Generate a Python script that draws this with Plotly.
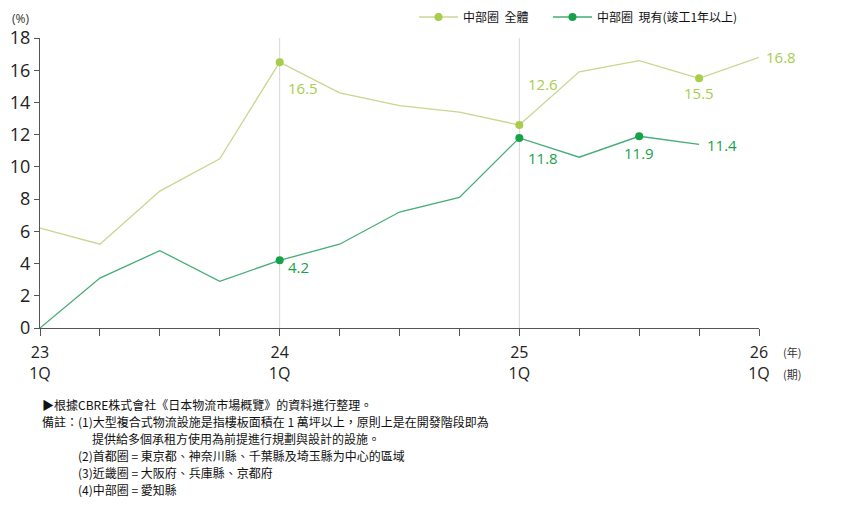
import plotly.graph_objects as go

# quarters 2023 1Q .. 2026 1Q
quarters = ["23-1Q", "23-2Q", "23-3Q", "23-4Q",
            "24-1Q", "24-2Q", "24-3Q", "24-4Q",
            "25-1Q", "25-2Q", "25-3Q", "25-4Q", "26-1Q"]
# 中部圈 全體, %
total_rate = [6.2, 5.2, 8.5, 10.5, 16.5, 14.6, 13.8, 13.4, 12.6, 15.9, 16.6, 15.5, 16.8]
# 中部圈 現有(竣工1年以上), %
existing_rate = [0.0, 3.1, 4.8, 2.9, 4.2, 5.2, 7.2, 8.1, 11.8, 10.6, 11.9, 11.4]
# year ticks
tick_idx = [0, 4, 8, 12]
tick_labels = ["23<br>1Q", "24<br>1Q", "25<br>1Q", "26<br>1Q"]
# points with dots / value labels
total_marked = [4, 8, 11]
total_labeled = [4, 8, 11, 12]
existing_marked = [4, 8, 10]
existing_labeled = [4, 8, 10, 11]

name_total = "中部圈\u00a0\u00a0全體"
name_existing = "中部圈\u00a0\u00a0現有(竣工1年以上)"

c_total_line = "#c8d78f"
c_total_dot = "#a8cd4c"
c_exist_line = "#45ad77"
c_exist_dot = "#17a24a"

num_font = "Open Sans"
cjk_font = "Noto Sans CJK TC"

# page body adds 8px, so figure coords = screen coords - 8
OFF = 8

# label offsets (px): xanchor, xshift, yshift
total_label_pos = {4: ("left", 6, -26), 8: ("left", 7, 41), 11: ("center", 0, -15), 12: ("left", 5, 0)}
exist_label_pos = {4: ("left", 6, -7), 8: ("left", 7, -20), 10: ("center", 0, -17), 11: ("left", 6, -1)}

x_total = list(range(len(total_rate)))
x_exist = list(range(len(existing_rate)))

fig = go.Figure()

# lines
fig.add_trace(go.Scatter(x=x_total, y=total_rate, mode="lines", showlegend=False,
                         line=dict(color=c_total_line, width=1.3), cliponaxis=False, hoverinfo="skip"))
fig.add_trace(go.Scatter(x=x_exist, y=existing_rate, mode="lines", showlegend=False,
                         line=dict(color=c_exist_line, width=1.3), cliponaxis=False, hoverinfo="skip"))
# dots
fig.add_trace(go.Scatter(x=total_marked, y=[total_rate[i] for i in total_marked], mode="markers",
                         showlegend=False, marker=dict(color=c_total_dot, size=8), cliponaxis=False))
fig.add_trace(go.Scatter(x=existing_marked, y=[existing_rate[i] for i in existing_marked], mode="markers",
                         showlegend=False, marker=dict(color=c_exist_dot, size=8), cliponaxis=False))
# legend entries
fig.add_trace(go.Scatter(x=[None], y=[None], mode="lines+markers", name=name_total, legend="legend",
                         line=dict(color=c_total_line, width=1.3), marker=dict(color=c_total_dot, size=8)))
fig.add_trace(go.Scatter(x=[None], y=[None], mode="lines+markers", name=name_existing, legend="legend2",
                         line=dict(color=c_exist_line, width=1.3), marker=dict(color=c_exist_dot, size=8)))

annotations = []
for i in total_labeled:
    xa, xs, ys = total_label_pos[i]
    annotations.append(dict(x=i, y=total_rate[i], text=f"{total_rate[i]:.1f}", showarrow=False,
                            xanchor=xa, yanchor="middle", xshift=xs, yshift=ys,
                            font=dict(family=num_font, size=15, color=c_total_dot)))
for i in existing_labeled:
    xa, xs, ys = exist_label_pos[i]
    annotations.append(dict(x=i, y=existing_rate[i], text=f"{existing_rate[i]:.1f}", showarrow=False,
                            xanchor=xa, yanchor="middle", xshift=xs, yshift=ys,
                            font=dict(family=num_font, size=15, color=c_exist_dot)))

# unit labels
annotations.append(dict(x=(20 - 40) / 719, y=(328 - 18) / 290, xref="paper", yref="paper", text="(%)",
                        showarrow=False, xanchor="center", yanchor="middle",
                        font=dict(family=num_font, size=12, color="#333")))
annotations.append(dict(x=(781 - 40) / 719, y=(328 - 352) / 290, xref="paper", yref="paper", text="(年)",
                        showarrow=False, xanchor="left", yanchor="middle",
                        font=dict(family=cjk_font, size=11, color="#333")))
annotations.append(dict(x=(781 - 40) / 719, y=(328 - 374) / 290, xref="paper", yref="paper", text="(期)",
                        showarrow=False, xanchor="left", yanchor="middle",
                        font=dict(family=cjk_font, size=11, color="#333")))

notes = [
    (42, 404, "▶根據CBRE株式會社《日本物流市場概覽》的資料進行整理。"),
    (42, 421, "備註：(1)大型複合式物流設施是指樓板面積在 1 萬坪以上，原則上是在開發階段即為"),
    (92, 438, "提供給多個承租方使用為前提進行規劃與設計的設施。"),
    (78, 455, "(2)首都圈 = 東京都、神奈川縣、千葉縣及埼玉縣为中心的區域"),
    (78, 472, "(3)近畿圈 = 大阪府、兵庫縣、京都府"),
    (78, 489, "(4)中部圈 = 愛知縣"),
]
for px, py, txt in notes:
    annotations.append(dict(x=(px - 40) / 719, y=(328 - py) / 290, xref="paper", yref="paper",
                            text=txt, showarrow=False, xanchor="left", yanchor="middle", xshift=-1,
                            height=15, borderpad=0,
                            font=dict(family=cjk_font, size=12, color="#111")))

shapes = []
for xv in tick_idx[1:-1]:
    shapes.append(dict(type="line", x0=xv, x1=xv, y0=0, y1=18, xref="x", yref="y",
                       line=dict(color="#d6d6d6", width=1), layer="below"))

legend_style = dict(orientation="h", xref="container", yref="container", xanchor="left", yanchor="middle",
                    font=dict(family=cjk_font, size=12, color="#111"), bgcolor="rgba(0,0,0,0)",
                    itemwidth=39)

fig.update_layout(
    width=852, height=506,
    margin=dict(l=40 - OFF, r=852 - 759 + OFF, t=38 - OFF, b=506 - 328 + OFF, autoexpand=False),
    plot_bgcolor="white", paper_bgcolor="white",
    showlegend=True,
    legend=dict(x=(414 - OFF) / 852, y=1 - (17 - OFF) / 506, **legend_style),
    legend2=dict(x=(548 - OFF) / 852, y=1 - (17 - OFF) / 506, **legend_style),
    annotations=annotations,
    shapes=shapes,
    xaxis=dict(range=[0, 12], tickvals=tick_idx, ticktext=tick_labels, showgrid=False, zeroline=False,
               automargin=False, ticklabelstandoff=3,
               showline=True, linecolor="#555", linewidth=1, ticks="outside", ticklen=7, tickcolor="#555",
               minor=dict(dtick=1, ticks="outside", ticklen=7, tickcolor="#555", showgrid=False),
               tickfont=dict(family=num_font, size=16, color="#222")),
    yaxis=dict(range=[0, 18], dtick=2, showgrid=False, zeroline=False, automargin=False,
               showline=True, linecolor="#555", linewidth=1, ticks="outside", ticklen=5, tickcolor="#555",
               tickfont=dict(family=num_font, size=18, color="#222")),
)

fig.write_html("out.html")
